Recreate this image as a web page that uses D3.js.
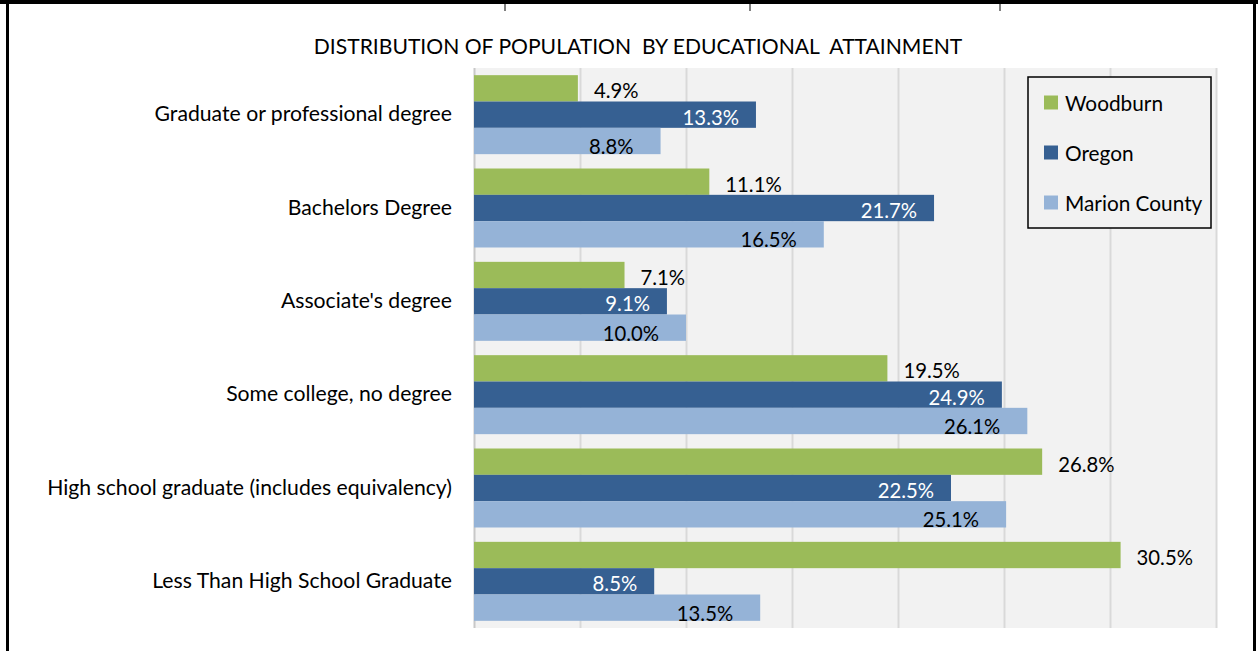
<!DOCTYPE html>
<html>
<head>
<meta charset="utf-8">
<script src="https://cdn.jsdelivr.net/npm/d3@7"></script>
<style>
  html, body { margin: 0; padding: 0; background: #ffffff; }
  svg { display: block; }
  text { font-family: Lato, "Liberation Sans", sans-serif; }
</style>
</head>
<body>
<svg id="chart" width="1258" height="651"></svg>
<script>
const categories = [
  "Graduate or professional degree",
  "Bachelors Degree",
  "Associate's degree",
  "Some college, no degree",
  "High school graduate (includes equivalency)",
  "Less Than High School Graduate"
];
const seriesNames = ["Woodburn", "Oregon", "Marion County"];
const woodburn = [4.9, 11.1, 7.1, 19.5, 26.8, 30.5];
const oregon = [13.3, 21.7, 9.1, 24.9, 22.5, 8.5];
const marion = [8.8, 16.5, 10.0, 26.1, 25.1, 13.5];
const xTicks = [0, 5, 10, 15, 20, 25, 30, 35];
const title = "DISTRIBUTION OF POPULATION  BY EDUCATIONAL  ATTAINMENT";

const seriesValues = [woodburn, oregon, marion];
const colors = ["#9bbb59", "#366092", "#95b3d7"];
const labelFill = ["#000000", "#ffffff", "#000000"];

const svg = d3.select("#chart");

// outer frame (page-like borders)
svg.append("rect").attr("x", 0).attr("y", 0).attr("width", 1258).attr("height", 4).attr("fill", "#000");
[505, 750, 1000].forEach(px => {
  svg.append("line").attr("x1", px).attr("x2", px).attr("y1", 0).attr("y2", 11)
    .attr("stroke", "#000").attr("stroke-width", 1);
});
svg.append("rect").attr("x", 6).attr("y", 0).attr("width", 3).attr("height", 651).attr("fill", "#000");
svg.append("rect").attr("x", 1253).attr("y", 0).attr("width", 3).attr("height", 651).attr("fill", "#000");

const plot = { left: 474, right: 1216, top: 68, bottom: 628 };

const x = d3.scaleLinear().domain([0, 35]).range([plot.left, plot.right]);
const y = d3.scaleBand().domain(categories).range([plot.top, plot.bottom])
  .paddingInner(0.1536).paddingOuter(0.0768);
const ySub = d3.scaleBand().domain(seriesNames).range([0, y.bandwidth()]).padding(0);

// plot background
svg.append("rect")
  .attr("x", plot.left).attr("y", plot.top)
  .attr("width", plot.right - plot.left).attr("height", plot.bottom - plot.top)
  .attr("fill", "#f2f2f2");

// gridlines via axis
const grid = svg.append("g")
  .attr("transform", `translate(0,${plot.bottom})`)
  .call(d3.axisBottom(x).tickValues(xTicks).tickSize(-(plot.bottom - plot.top)).tickFormat(""));
grid.select(".domain").remove();
grid.selectAll(".tick line").attr("stroke", "#d9d9d9").attr("stroke-width", 2);
grid.selectAll(".tick").filter(d => d === 0).select("line").attr("stroke", "#c8c8c8");

// title
svg.append("text")
  .attr("x", 638).attr("y", 45)
  .attr("text-anchor", "middle").attr("dominant-baseline", "central")
  .style("white-space", "pre")
  .attr("font-size", 21.1).attr("fill", "#000")
  .text(title);

// category axis labels
const yAxis = svg.append("g")
  .attr("transform", `translate(${plot.left},0)`)
  .call(d3.axisLeft(y).tickSize(0).tickPadding(22));
yAxis.select(".domain").remove();
yAxis.selectAll("text")
  .attr("font-size", 21.2).attr("fill", "#000")
  .style("font-family", "Lato, 'Liberation Sans', sans-serif");

// bars
const labelDx = [16, -17, -27];
const labelDy = [2, 2, 5];
const labelAnchor = ["start", "end", "end"];

seriesNames.forEach((name, si) => {
  const g = svg.append("g");
  const vals = seriesValues[si];
  g.selectAll("rect").data(categories).join("rect")
    .attr("x", x(0))
    .attr("y", (c) => y(c) + ySub(name))
    .attr("width", (c, i) => x(vals[i]) - x(0))
    .attr("height", ySub.bandwidth())
    .attr("fill", colors[si]);
  g.selectAll("text").data(categories).join("text")
    .attr("x", (c, i) => x(vals[i]) + labelDx[si])
    .attr("y", (c) => y(c) + ySub(name) + ySub.bandwidth() / 2 + labelDy[si])
    .attr("text-anchor", labelAnchor[si])
    .attr("dominant-baseline", "central")
    .attr("font-size", 20.3)
    .attr("fill", labelFill[si])
    .text((c, i) => vals[i].toFixed(1) + "%");
});

// legend
const legend = svg.append("g");
legend.append("rect")
  .attr("x", 1028).attr("y", 77).attr("width", 183).attr("height", 151)
  .attr("fill", "#f2f2f2").attr("stroke", "#000").attr("stroke-width", 1.5);
const legendY = d3.scalePoint().domain(seriesNames).range([102.5, 202.5]);
seriesNames.forEach((name, si) => {
  legend.append("rect")
    .attr("x", 1044).attr("y", legendY(name) - 7)
    .attr("width", 14).attr("height", 14).attr("fill", colors[si]);
  legend.append("text")
    .attr("x", 1065).attr("y", legendY(name))
    .attr("dominant-baseline", "central")
    .attr("font-size", 20.8).attr("fill", "#000")
    .text(name);
});
</script>
</body>
</html>
